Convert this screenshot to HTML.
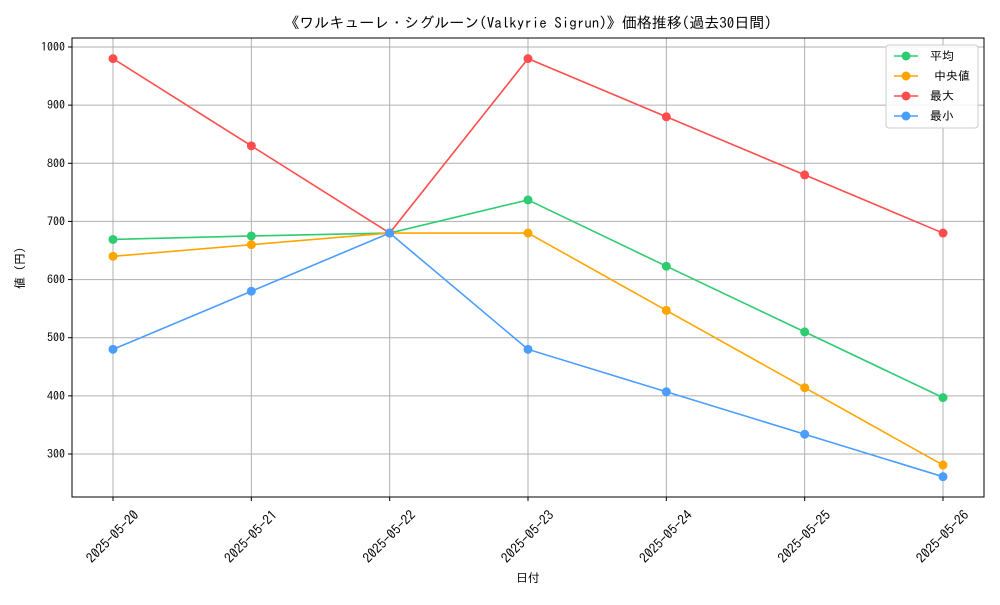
<!DOCTYPE html>
<html><head><meta charset="utf-8"><style>
body{margin:0;background:#fff}
svg text{font-family:"IPAGothic","Noto Sans CJK JP",sans-serif;fill:#000}
</style></head><body>
<svg id="chart" width="1000" height="600" viewBox="0 0 1000 600" xmlns="http://www.w3.org/2000/svg">
<rect width="1000" height="600" fill="#fff"/>
<text x="528" y="28" font-size="15" text-anchor="middle">《ワルキューレ・シグルーン(Valkyrie Sigrun)》価格推移(過去30日間)</text>
<g id="grid"></g>
<g id="axes"></g>
<g id="series"></g>
<rect x="72" y="38" width="912" height="459" fill="none" stroke="#000" stroke-width="1"/>
<text x="528" y="582" font-size="12" text-anchor="middle">日付</text>
<text transform="translate(24,268) rotate(-90)" font-size="12" text-anchor="middle">値 (円)</text>
<g id="legend"></g>
</svg>
<script>
const categories=["2025-05-20","2025-05-21","2025-05-22","2025-05-23","2025-05-24","2025-05-25","2025-05-26"];
const avgValues=[669,675,680,737,623,510,397];
const medianValues=[640,660,680,680,547,414,281];
const maxValues=[980,830,680,980,880,780,680];
const minValues=[480,580,680,480,407,334,261];
const yTicks=[300,400,500,600,700,800,900,1000];
const seriesNames=["平均","中央値","最大","最小"];
const NS="http://www.w3.org/2000/svg";
function xs(i){return 113+i*(943-113)/(categories.length-1);}
function ys(v){return 454-(v-300)*(454-47)/700;}
function mk(tag,attrs,parent){const e=document.createElementNS(NS,tag);for(const k in attrs)e.setAttribute(k,attrs[k]);parent.appendChild(e);return e;}
const grid=document.getElementById('grid'),axes=document.getElementById('axes'),ser=document.getElementById('series'),leg=document.getElementById('legend');
categories.forEach((c,i)=>{
 const x=xs(i);
 const l=mk('line',{x1:x,x2:x,y1:38,y2:497,stroke:'#b0b0b0','stroke-width':1},grid);
 
 
 const t=mk('line',{x1:x,x2:x,y1:497,y2:501,stroke:'#000'},axes);
 
 
 const cx=x, cy=537;
 const tx=mk('text',{x:cx,y:cy+4,'font-size':13.5,'text-anchor':'middle',transform:`rotate(-45 ${cx} ${cy})`},axes);
 tx.textContent=c;
 
 
});
yTicks.forEach(v=>{
 const y=ys(v);
 const l=mk('line',{x1:72,x2:984,y1:y,y2:y,stroke:'#b0b0b0','stroke-width':1},grid);
 
 
 const t=mk('line',{x1:68,x2:72,y1:y,y2:y,stroke:'#000'},axes);
 
 
 const tx=mk('text',{x:65,y:y+4,'font-size':12,'text-anchor':'end'},axes);
 tx.textContent=v;
 
 
});
const all=[[avgValues,'#2ecc71','average'],[medianValues,'#ffa500','median'],[maxValues,'#ff4d4d','max'],[minValues,'#4a9eff','min']];
all.forEach(([vals,col,nm])=>{
 const g=mk('g',{},ser);
 
 
 const p=mk('polyline',{points:vals.map((v,i)=>xs(i)+','+ys(v)).join(' '),fill:'none',stroke:col,'stroke-width':1.6},g);
 
 
 vals.forEach((v,i)=>{
  const c=mk('circle',{cx:xs(i),cy:ys(v),r:4.5,fill:col},g);
  
  
 });
});
const box=mk('rect',{x:886,y:45,width:92,height:83,fill:'#fff','fill-opacity':0.85,stroke:'#ccc',rx:3},leg);


all.forEach(([v,col,nm],i)=>{
 const y=56+i*20;
 const g=mk('g',{},leg);
 
 
 mk('line',{x1:894,x2:918,y1:y,y2:y,stroke:col,'stroke-width':1.6},g);
 mk('circle',{cx:906,cy:y,r:4.5,fill:col},g);
 const t=mk('text',{x:i==1?934:930,y:y+4,'font-size':12},g);
 t.textContent=seriesNames[i];
});
</script>
</body></html>
